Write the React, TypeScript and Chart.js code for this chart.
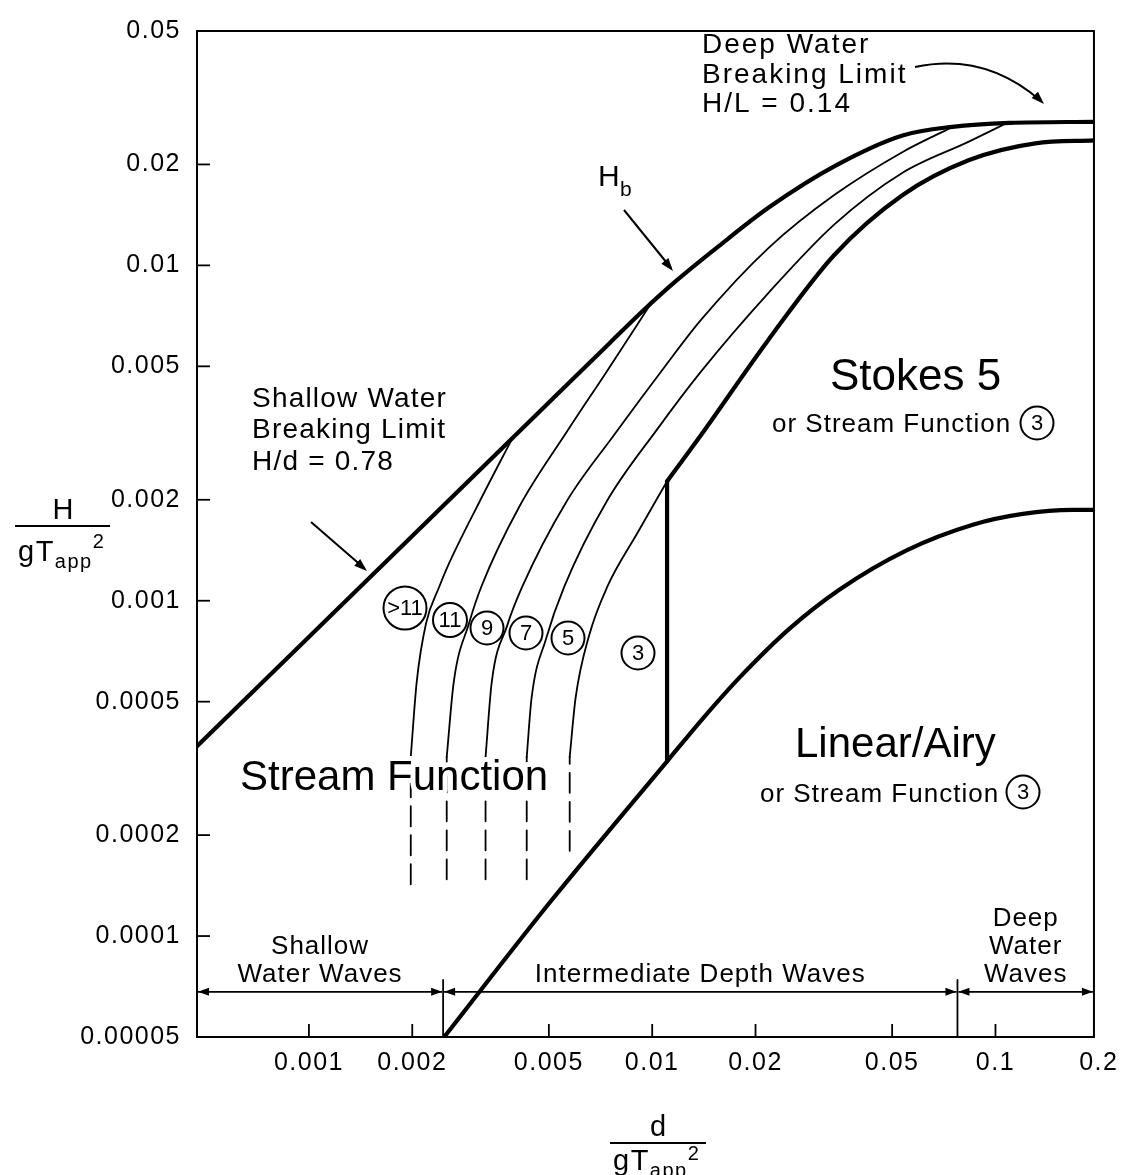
import React, { useEffect, useRef } from 'react';
import { Chart, registerables } from 'chart.js';

Chart.register(...registerables);

const FONT = '"Liberation Sans", Arial, Helvetica, sans-serif';

// ---------- axes ----------
const X_MIN = 0.000472;
const X_MAX = 0.1936;
const Y_MIN = 0.00005;
const Y_MAX = 0.05;
const X_TICKS = [0.001, 0.002, 0.005, 0.01, 0.02, 0.05, 0.1, 0.2];
const X_TICK_LABELS = ['0.001', '0.002', '0.005', '0.01', '0.02', '0.05', '0.1', '0.2'];
const Y_TICKS = [0.05, 0.02, 0.01, 0.005, 0.002, 0.001, 0.0005, 0.0002, 0.0001, 0.00005];
const Y_TICK_LABELS = ['0.05', '0.02', '0.01', '0.005', '0.002', '0.001', '0.0005', '0.0002', '0.0001', '0.00005'];

// ---------- breaking limit Hb (H/d = 0.78 in shallow water, H/L = 0.14 in deep water) ----------
const HB_X = [0.000472, 0.002, 0.005, 0.0075, 0.0093, 0.0116, 0.0156, 0.0219, 0.0341, 0.0536, 0.0749, 0.1099, 0.1936];
const HB_Y = [0.000368, 0.00156, 0.0039, 0.00585, 0.00725, 0.0089, 0.0114, 0.0149, 0.0198, 0.0244, 0.0259, 0.0266, 0.0268];

// ---------- stream-function order boundaries (solid parts) ----------
const C1_X = [0.00198, 0.00206, 0.002194, 0.002397, 0.002531, 0.003148, 0.00392];
const C1_Y = [0.000342, 0.000571, 0.000857, 0.001101, 0.00126, 0.001983, 0.00306];
const C2_X = [0.00252, 0.002641, 0.002927, 0.003178, 0.004115, 0.005659, 0.007423, 0.01];
const C2_Y = [0.000342, 0.000571, 0.000857, 0.001101, 0.00192, 0.003206, 0.004878, 0.0078];
const C3_X = [0.00327, 0.003408, 0.003776, 0.004183, 0.005642, 0.007704, 0.01081, 0.01389, 0.02184, 0.03406, 0.05352, 0.0745];
const C3_Y = [0.000342, 0.000571, 0.00084, 0.001101, 0.001983, 0.003099, 0.004944, 0.006887, 0.01128, 0.01626, 0.02176, 0.0258];
const C4_X = [0.00431, 0.004452, 0.004905, 0.005544, 0.007382, 0.01035, 0.01385, 0.02179, 0.03401, 0.05348, 0.08395, 0.108];
const C4_Y = [0.000342, 0.000512, 0.000769, 0.001101, 0.001983, 0.003249, 0.004813, 0.008267, 0.01328, 0.01887, 0.02344, 0.0266];
const C5_X = [0.00575, 0.005981, 0.006544, 0.0074, 0.009073, 0.01105];
const C5_Y = [0.000342, 0.000512, 0.000785, 0.001101, 0.001597, 0.002271];

// ---------- dashed lower continuations ----------
const DASH_X = [0.00198, 0.00252, 0.00327, 0.00431, 0.00575];
const DASH_Y_LOW = [0.0001427, 0.0001476, 0.0001476, 0.0001476, 0.0001796];
const DASH_Y_HIGH = [0.000342, 0.000342, 0.000342, 0.000342, 0.000342];

// ---------- Stokes 5 upper boundary (thick) ----------
const STOKES_X = [0.01105, 0.01381, 0.02174, 0.03397, 0.05341, 0.08384, 0.1307, 0.1936];
const STOKES_Y = [0.002271, 0.003099, 0.005975, 0.01076, 0.01616, 0.02061, 0.02312, 0.02359];

// ---------- vertical boundary ----------
const VERT_X = [0.01105, 0.01105];
const VERT_Y = [0.000332, 0.002271];

// ---------- linear / Airy boundary (thick) ----------
const LIN_X = [0.002478, 0.005044, 0.01105, 0.0141, 0.01787, 0.02503, 0.03508, 0.05508, 0.08589, 0.1202, 0.1681, 0.1936];
const LIN_Y = [0.00005, 0.0001263, 0.000332, 0.0004475, 0.0005868, 0.000823, 0.001079, 0.001414, 0.001686, 0.001816, 0.001866, 0.001866];

// ---------- depth regions ----------
const REGION_BOUNDS = [0.000472, 0.00246, 0.0775, 0.1936];
const REGION_ARROW_Y = 0.0000682;
const DIVIDER_TOP_Y = 0.000074;

const pts = (xs: number[], ys: number[]) => xs.map((x, i) => ({ x, y: ys[i] }));

const line = (xs: number[], ys: number[], width: number, dash: number[] = [], smooth = true) => ({
  data: pts(xs, ys),
  showLine: true,
  borderColor: '#000',
  backgroundColor: '#000',
  borderWidth: width,
  borderDash: dash,
  borderCapStyle: 'round',
  borderJoinStyle: 'round',
  pointRadius: 0,
  pointHoverRadius: 0,
  tension: 0,
  cubicInterpolationMode: smooth ? 'monotone' : 'default',
  fill: false,
});

function drawText(ctx: any, s: string, x: number, y: number, size: number, opts: any = {}) {
  ctx.save();
  ctx.font = `${size}px ${FONT}`;
  ctx.letterSpacing = `${opts.ls ?? 0}px`;
  ctx.textAlign = opts.align ?? 'left';
  ctx.textBaseline = 'alphabetic';
  if (opts.halo) {
    ctx.strokeStyle = '#fff';
    ctx.lineWidth = opts.halo;
    ctx.lineJoin = 'round';
    ctx.strokeText(s, x, y);
  }
  ctx.fillStyle = '#000';
  ctx.fillText(s, x, y);
  ctx.restore();
}

function textWidth(ctx: any, s: string, size: number, ls = 0) {
  ctx.save();
  ctx.font = `${size}px ${FONT}`;
  ctx.letterSpacing = `${ls}px`;
  const w = ctx.measureText(s).width;
  ctx.restore();
  return w;
}

function arrowHead(ctx: any, x0: number, y0: number, x1: number, y1: number, len = 13, w = 4.5) {
  const a = Math.atan2(y1 - y0, x1 - x0);
  ctx.beginPath();
  ctx.moveTo(x1, y1);
  ctx.lineTo(x1 - len * Math.cos(a) + w * Math.sin(a), y1 - len * Math.sin(a) - w * Math.cos(a));
  ctx.lineTo(x1 - len * Math.cos(a) - w * Math.sin(a), y1 - len * Math.sin(a) + w * Math.cos(a));
  ctx.closePath();
  ctx.fill();
}

function circled(ctx: any, s: string, cx: number, cy: number, r: number, size: number) {
  ctx.save();
  ctx.beginPath();
  ctx.arc(cx, cy, r, 0, Math.PI * 2);
  ctx.fillStyle = '#fff';
  ctx.fill();
  ctx.lineWidth = 2;
  ctx.strokeStyle = '#000';
  ctx.stroke();
  ctx.fillStyle = '#000';
  ctx.font = `${size}px ${FONT}`;
  ctx.letterSpacing = '0px';
  ctx.textAlign = 'center';
  ctx.textBaseline = 'middle';
  ctx.fillText(s, cx, cy + 1);
  ctx.restore();
}

function fraction(ctx: any, top: string, cx: number, topBase: number, lineY: number, x0: number, x1: number, botBase: number, supLift: number) {
  drawText(ctx, top, cx, topBase, 29, { align: 'center' });
  ctx.save();
  ctx.lineWidth = 2;
  ctx.strokeStyle = '#000';
  ctx.beginPath();
  ctx.moveTo(x0, lineY);
  ctx.lineTo(x1, lineY);
  ctx.stroke();
  ctx.restore();
  // gT_app^2
  let x = x0 + 3;
  drawText(ctx, 'gT', x, botBase, 29, { ls: 1.5 });
  x += textWidth(ctx, 'gT', 29, 1.5);
  drawText(ctx, 'app', x, botBase + 7, 20, { ls: 1.5 });
  x += textWidth(ctx, 'app', 20, 1.5);
  drawText(ctx, '2', x, botBase - supLift, 20);
}

const annotations = {
  id: 'annotations',
  beforeDraw(chart: any) {
    const ctx = chart.ctx;
    ctx.save();
    ctx.fillStyle = '#fff';
    ctx.fillRect(0, 0, chart.width, chart.height);
    ctx.restore();
    ctx.letterSpacing = '1.5px';
  },
  beforeDatasetsDraw(chart: any) {
    chart.ctx.letterSpacing = '0px';
  },
  afterDatasetsDraw(chart: any) {
    const ctx = chart.ctx;
    const xs = chart.scales.x;
    const ys = chart.scales.y;
    const { left, right, top, bottom } = chart.chartArea;
    const px = (v: number) => xs.getPixelForValue(v);
    const py = (v: number) => ys.getPixelForValue(v);

    ctx.save();
    ctx.fillStyle = '#000';
    ctx.strokeStyle = '#000';

    // region arrows at the bottom
    const ay = py(REGION_ARROW_Y);
    ctx.lineWidth = 1.8;
    for (let i = 0; i < REGION_BOUNDS.length - 1; i++) {
      const a = px(REGION_BOUNDS[i]) + 1;
      const b = px(REGION_BOUNDS[i + 1]) - 1;
      ctx.beginPath();
      ctx.moveTo(a, ay);
      ctx.lineTo(b, ay);
      ctx.stroke();
      arrowHead(ctx, b, ay, a, ay, 11, 4);
      arrowHead(ctx, a, ay, b, ay, 11, 4);
    }

    // region labels
    const c0 = (px(REGION_BOUNDS[0]) + px(REGION_BOUNDS[1])) / 2;
    const c1 = (px(REGION_BOUNDS[1]) + px(REGION_BOUNDS[2])) / 2;
    const c2 = (px(REGION_BOUNDS[2]) + px(REGION_BOUNDS[3])) / 2;
    drawText(ctx, 'Shallow', c0, ay - 38, 26, { align: 'center', ls: 1 });
    drawText(ctx, 'Water Waves', c0, ay - 10, 26, { align: 'center', ls: 1 });
    drawText(ctx, 'Intermediate Depth Waves', c1, ay - 10, 26, { align: 'center', ls: 1 });
    drawText(ctx, 'Deep', c2, ay - 66, 26, { align: 'center', ls: 1 });
    drawText(ctx, 'Water', c2, ay - 38, 26, { align: 'center', ls: 1 });
    drawText(ctx, 'Waves', c2, ay - 10, 26, { align: 'center', ls: 1 });

    // Deep water breaking limit note
    drawText(ctx, 'Deep Water', 702, 53, 28, { ls: 2 });
    drawText(ctx, 'Breaking Limit', 702, 83, 28, { ls: 2 });
    drawText(ctx, 'H/L = 0.14', 702, 112, 28, { ls: 2 });
    ctx.lineWidth = 2;
    ctx.beginPath();
    ctx.moveTo(915, 67);
    ctx.quadraticCurveTo(985, 52, 1041, 101);
    ctx.stroke();
    arrowHead(ctx, 1030, 90, 1044, 104, 13, 4.5);

    // Shallow water breaking limit note
    drawText(ctx, 'Shallow Water', 252, 407, 28, { ls: 1.2 });
    drawText(ctx, 'Breaking Limit', 252, 438, 28, { ls: 1.2 });
    drawText(ctx, 'H/d = 0.78', 252, 470, 28, { ls: 1.2 });
    ctx.beginPath();
    ctx.moveTo(311, 522);
    ctx.lineTo(364, 568);
    ctx.stroke();
    arrowHead(ctx, 311, 522, 367, 571, 13, 4.5);

    // Hb
    drawText(ctx, 'H', 598, 186, 30, { ls: 1 });
    drawText(ctx, 'b', 620, 196, 21);
    ctx.beginPath();
    ctx.moveTo(624, 210);
    ctx.lineTo(671, 268);
    ctx.stroke();
    arrowHead(ctx, 624, 210, 673, 271, 13, 4.5);

    // region names
    drawText(ctx, 'Stokes 5', 830, 390, 44);
    drawText(ctx, 'or Stream Function', 772, 432, 26, { ls: 1 });
    circled(ctx, '3', 1037, 423, 16.5, 22);
    drawText(ctx, 'Linear/Airy', 795, 757, 42);
    drawText(ctx, 'or Stream Function', 760, 802, 26, { ls: 1 });
    circled(ctx, '3', 1023, 792, 16.5, 22);
    drawText(ctx, 'Stream Function', 240, 790, 42, { halo: 10 });

    // order labels
    circled(ctx, '>11', 405, 608, 21.5, 22);
    circled(ctx, '11', 450, 620, 17, 22);
    circled(ctx, '9', 487, 628, 16.5, 22);
    circled(ctx, '7', 526, 633, 16.5, 22);
    circled(ctx, '5', 568, 638, 16.5, 22);
    circled(ctx, '3', 638, 653, 16.5, 22);

    // frame
    ctx.lineWidth = 2;
    ctx.strokeRect(left, top, right - left, bottom - top);

    // inward tick marks
    ctx.lineWidth = 1.8;
    X_TICKS.forEach((v) => {
      if (v <= X_MIN || v >= X_MAX) return;
      const x = px(v);
      ctx.beginPath();
      ctx.moveTo(x, bottom);
      ctx.lineTo(x, bottom - 13);
      ctx.stroke();
    });
    Y_TICKS.forEach((v) => {
      if (v <= Y_MIN || v >= Y_MAX) return;
      const y = py(v);
      ctx.beginPath();
      ctx.moveTo(left, y);
      ctx.lineTo(left + 13, y);
      ctx.stroke();
    });

    // axis titles
    fraction(ctx, 'H', 63, 519, 526, 15, 110, 561, 13);
    fraction(ctx, 'd', 658, 1136, 1143, 610, 706, 1170, 10);
    ctx.restore();
  },
};

const labelFor = (value: number, ticks: number[], labels: string[]) => {
  const i = ticks.findIndex((t) => Math.abs(t - value) / t < 1e-6);
  return i >= 0 ? labels[i] : '';
};

export default function App() {
  const ref = useRef<HTMLCanvasElement | null>(null);

  useEffect(() => {
    if (!ref.current) return;
    const datasets: any[] = [
      line(HB_X, HB_Y, 4.2),
      line(C1_X, C1_Y, 1.8),
      line(C2_X, C2_Y, 1.8),
      line(C3_X, C3_Y, 1.8),
      line(C4_X, C4_Y, 1.8),
      line(C5_X, C5_Y, 1.8),
      ...DASH_X.map((x, i) => line([x, x], [DASH_Y_LOW[i], DASH_Y_HIGH[i]], 1.8, [20, 9], false)),
      line(STOKES_X, STOKES_Y, 4.2),
      line(VERT_X, VERT_Y, 4.2, [], false),
      line(LIN_X, LIN_Y, 4.2),
      line([REGION_BOUNDS[1], REGION_BOUNDS[1]], [Y_MIN, DIVIDER_TOP_Y], 1.8, [], false),
      line([REGION_BOUNDS[2], REGION_BOUNDS[2]], [Y_MIN, DIVIDER_TOP_Y], 1.8, [], false),
    ];

    const tickFont = { family: FONT, size: 25 };
    const chart = new Chart(ref.current, {
      type: 'scatter',
      data: { datasets },
      options: {
        responsive: false,
        animation: false,
        devicePixelRatio: 1,
        events: [],
        layout: { padding: { left: 0, top: 16, right: 33, bottom: 0 } },
        plugins: { legend: { display: false }, tooltip: { enabled: false }, title: { display: false } },
        scales: {
          x: {
            type: 'logarithmic',
            min: X_MIN,
            max: X_MAX,
            grid: { display: false, drawTicks: false },
            border: { display: false },
            ticks: {
              autoSkip: false,
              maxRotation: 0,
              minRotation: 0,
              padding: 11,
              color: '#000',
              font: tickFont,
              callback: (v: any) => labelFor(Number(v), X_TICKS, X_TICK_LABELS),
            },
            afterBuildTicks: (s: any) => {
              s.ticks = X_TICKS.map((v) => ({ value: v }));
            },
            afterFit: (s: any) => {
              s.height = 138;
            },
          },
          y: {
            type: 'logarithmic',
            min: Y_MIN,
            max: Y_MAX,
            grid: { display: false, drawTicks: false },
            border: { display: false },
            ticks: {
              autoSkip: false,
              padding: 16,
              color: '#000',
              font: tickFont,
              callback: (v: any) => labelFor(Number(v), Y_TICKS, Y_TICK_LABELS),
            },
            afterBuildTicks: (s: any) => {
              s.ticks = Y_TICKS.map((v) => ({ value: v }));
            },
            afterFit: (s: any) => {
              s.width = 197;
            },
          },
        },
      } as any,
      plugins: [annotations],
    });
    return () => chart.destroy();
  }, []);

  return (
    <div style={{ position: 'absolute', left: 0, top: 0, width: 1127, height: 1175, background: '#fff' }}>
      <canvas ref={ref} width={1127} height={1175} style={{ display: 'block', width: 1127, height: 1175 }} />
    </div>
  );
}
